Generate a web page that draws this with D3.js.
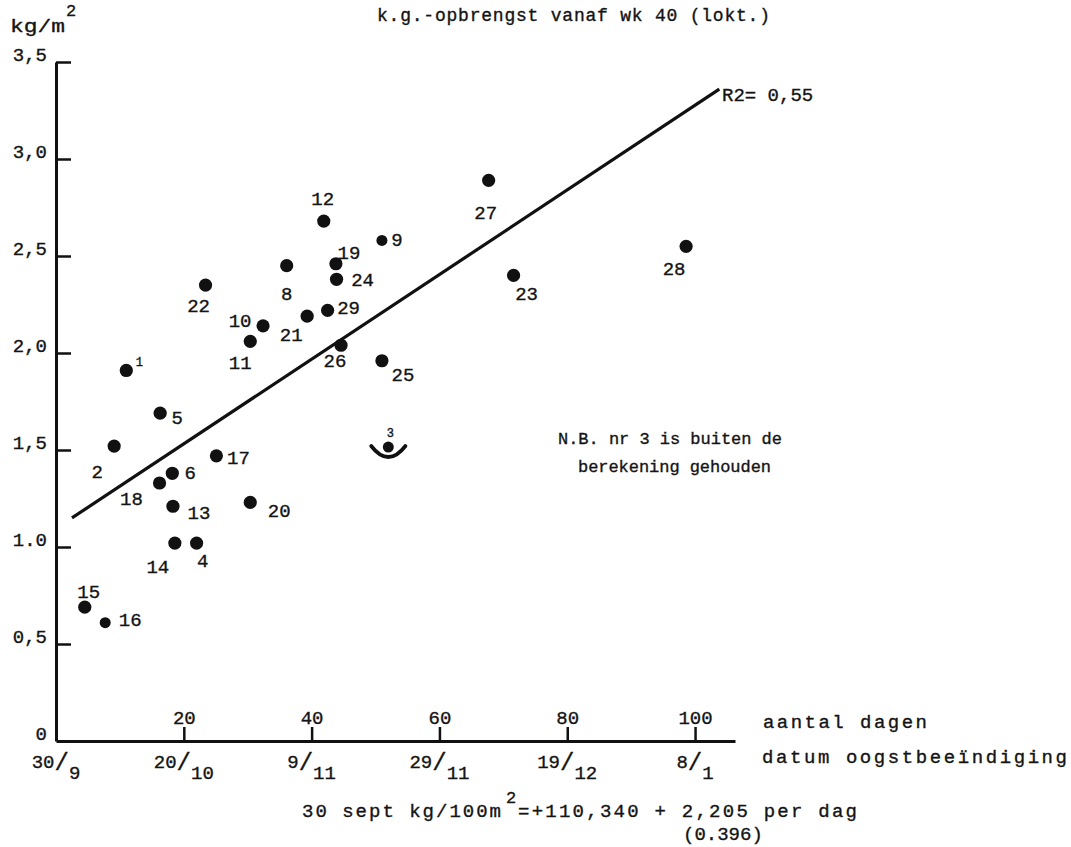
<!DOCTYPE html>
<html><head><meta charset="utf-8">
<script src="https://cdn.jsdelivr.net/npm/d3@7"></script>
<style>
body{margin:0;background:#fff}
text{font-family:"Liberation Mono",monospace;fill:#141414;stroke:#141414;stroke-width:0.35px}
</style>
</head><body>
<svg id="c" width="1071" height="847"></svg>
<script>
// ---- data ----
const pointIds    = [1, 2, 4, 5, 6, 8, 9, 10, 11, 12, 13, 14, 15, 16, 17, 18, 19, 20, 21, 22, 23, 24, 25, 26, 27, 28, 29];
const pointDays   = [11.0, 9.1, 22.0, 16.3, 18.2, 36.1, 51.0, 32.4, 30.4, 41.9, 18.3, 18.6, 4.5, 7.7, 25.1, 16.2, 43.8, 30.4, 39.3, 23.4, 71.6, 43.9, 51.0, 44.6, 67.7, 98.6, 42.5];
const pointYields = [1.91, 1.52, 1.02, 1.69, 1.38, 2.45, 2.58, 2.14, 2.06, 2.68, 1.21, 1.02, 0.69, 0.61, 1.47, 1.33, 2.46, 1.23, 2.19, 2.35, 2.40, 2.38, 1.96, 2.04, 2.89, 2.55, 2.22];
const excludedIds    = [3];
const excludedDays   = [52.0];
const excludedYields = [1.52];
const fitDays   = [2.5, 103.8];
const fitYields = [1.15, 3.36];
const dayTicks  = [20, 40, 60, 80, 100];
const dateTickDays = [0, 20, 40, 60, 80, 100];
const dateTickMain = ["30", "20", "9", "29", "19", "8"];
const dateTickSub  = ["9", "10", "11", "11", "12", "1"];
const yieldTicks      = [0, 0.5, 1, 1.5, 2, 2.5, 3, 3.5];
const yieldTickLabels = ["0", "0,5", "1.0", "1,5", "2,0", "2,5", "3,0", "3,5"];

// ---- layout (label offsets relative to the dot, in px) ----
const labelOffsets = {1:[13,-9,12],2:[-17,25],3:[2,-13,12],4:[6,17],5:[17,4],6:[18,-1],8:[0,28],9:[15,-1],
  10:[-23,-5],11:[-10,21],12:[-1,-23],13:[26,6],14:[-17,23],15:[4,-16],16:[25,-3],17:[22,2],18:[-28,15],
  19:[13,-11],20:[29,8],21:[-16,18],22:[-7,20],23:[13,18],24:[26,0],25:[21,14],26:[-6,15],27:[-3,32],28:[-12,22],29:[21,-3]};

const svg = d3.select("#c");
const x = d3.scaleLinear().domain([0, 106.25]).range([56, 735]);
const y = d3.scaleLinear().domain([0, 3.5]).range([741, 62]);

// y axis (ticks pointing inward, labels left)
const yAxis = svg.append("g").attr("transform", `translate(${x(0)},0)`)
  .call(d3.axisLeft(y).tickValues(yieldTicks).tickSizeInner(-15).tickSizeOuter(0).tickPadding(9)
    .tickFormat((d,i) => yieldTickLabels[i]));
yAxis.select(".domain").attr("stroke","#111").attr("stroke-width",3);
yAxis.selectAll(".tick line").attr("stroke","#111").attr("stroke-width",2.5);
yAxis.selectAll(".tick text").attr("font-family","Liberation Mono").attr("font-size",19).attr("dy","-0.1em").attr("fill","#141414");
yAxis.selectAll(".tick").filter(d => d === 0).select("line").remove();

// x axis (days), ticks pointing up
const xAxis = svg.append("g").attr("transform", `translate(0,${y(0)})`)
  .call(d3.axisTop(x).tickValues(dayTicks).tickSizeInner(14).tickSizeOuter(0).tickPadding(3).tickFormat(d3.format("d")));
xAxis.select(".domain").attr("stroke","#111").attr("stroke-width",3);
xAxis.selectAll(".tick line").attr("stroke","#111").attr("stroke-width",2.5);
xAxis.selectAll(".tick text").attr("font-family","Liberation Mono").attr("font-size",19).attr("dy","0").attr("fill","#141414");

// date labels under axis
const dl = svg.append("g").selectAll("text").data(dateTickDays).join("text")
  .attr("x", d => x(d)).attr("y", y(0) + 27).attr("text-anchor","middle").attr("font-size",19);
dl.append("tspan").text((d,i) => dateTickMain[i]);
dl.append("tspan").attr("font-size",24).attr("dy",2).text("/");
dl.append("tspan").attr("dy",9).text((d,i) => dateTickSub[i]);

// regression line
svg.append("path").datum(fitDays.map((d,i) => [d, fitYields[i]]))
  .attr("d", d3.line().x(d => x(d[0])).y(d => y(d[1])))
  .attr("fill","none").attr("stroke","#111").attr("stroke-width",3.2);

// points
const pts = pointIds.map((id,i) => ({id, d: pointDays[i], v: pointYields[i]}));
svg.append("g").selectAll("circle").data(pts).join("circle")
  .attr("cx", p => x(p.d)).attr("cy", p => y(p.v))
  .attr("r", p => (p.id === 16 || p.id === 9) ? 5.5 : 6.6).attr("fill","#111");
svg.append("g").selectAll("text").data(pts).join("text")
  .attr("x", p => x(p.d) + labelOffsets[p.id][0]).attr("y", p => y(p.v) + labelOffsets[p.id][1])
  .attr("dy","0.35em").attr("text-anchor","middle")
  .attr("font-size", p => labelOffsets[p.id][2] || 19).text(p => p.id);

// excluded point 3 with arc underneath
const ex = excludedIds.map((id,i) => ({id, d: excludedDays[i], v: excludedYields[i]}));
ex.forEach(p => {
  const cx = x(p.d), cy = y(p.v);
  svg.append("circle").attr("cx",cx).attr("cy",cy+1).attr("r",5.5).attr("fill","#111");
  const pa = d3.path();
  pa.moveTo(cx-17, cy); pa.quadraticCurveTo(cx, cy+22, cx+17, cy);
  svg.append("path").attr("d", pa.toString()).attr("fill","none").attr("stroke","#111").attr("stroke-width",4).attr("stroke-linecap","round");
  svg.append("text").attr("x", cx + labelOffsets[p.id][0]).attr("y", cy + labelOffsets[p.id][1]).attr("dy","0.35em")
    .attr("text-anchor","middle").attr("font-size",labelOffsets[p.id][2]).text(p.id);
});

// texts
svg.append("text").attr("x",10).attr("y",32).attr("font-size",19).attr("textLength",55).attr("lengthAdjust","spacingAndGlyphs").text("kg/m");
svg.append("text").attr("x",66).attr("y",16).attr("font-size",17).text("2");
svg.append("text").attr("x",377).attr("y",21).attr("font-size",18).attr("textLength",393).attr("lengthAdjust","spacing").text("k.g.-opbrengst vanaf wk 40 (lokt.)");
svg.append("text").attr("x",722).attr("y",101).attr("font-size",19).text("R2= 0,55");
svg.append("text").attr("x",558).attr("y",444).attr("font-size",17).attr("textLength",224).attr("lengthAdjust","spacing").text("N.B. nr 3 is buiten de");
svg.append("text").attr("x",578).attr("y",472).attr("font-size",17).attr("textLength",193).attr("lengthAdjust","spacing").text("berekening gehouden");
svg.append("text").attr("x",763).attr("y",728).attr("font-size",19).attr("textLength",164).attr("lengthAdjust","spacing").text("aantal dagen");
svg.append("text").attr("x",762).attr("y",763).attr("font-size",19).attr("textLength",305).attr("lengthAdjust","spacing").text("datum oogstbeeïndiging");
svg.append("text").attr("x",302).attr("y",817).attr("font-size",19).attr("textLength",199).attr("lengthAdjust","spacing").text("30 sept kg/100m");
svg.append("text").attr("x",506).attr("y",803).attr("font-size",17).text("2");
svg.append("text").attr("x",518).attr("y",817).attr("font-size",19).attr("textLength",339).attr("lengthAdjust","spacing").text("=+110,340 + 2,205 per dag");
svg.append("text").attr("x",683).attr("y",840).attr("font-size",19).text("(0.396)");
</script>
</body></html>
